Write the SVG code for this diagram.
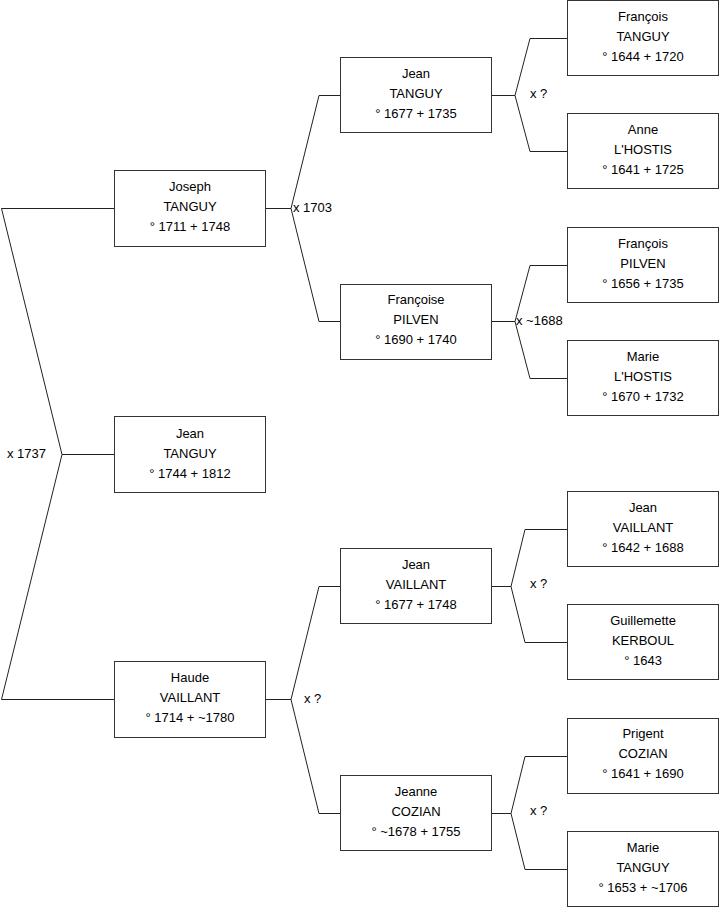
<svg xmlns="http://www.w3.org/2000/svg" width="719" height="908" viewBox="0 0 719 908">
<style>
rect.b{fill:#fff;stroke:#333;stroke-width:1}
text{font-family:"Liberation Sans",Arial,sans-serif;font-size:13px;fill:#000}
text.c{text-anchor:middle}
#connectors path{fill:none;stroke:#222;stroke-width:1}
</style>
<rect width="719" height="908" fill="#fff"/>
<g id="connectors">
<path d="M114 208.5H1.5L62 454.5L1.5 699.5H114M62 454.5H114"/>
<path d="M265 208.5H291L319 95.5H340M291 208.5L319 321.5H340"/>
<path d="M265 699.5H291L319 586.5H340M291 699.5L319 813.5H340"/>
<path d="M491 95.5H515L530 38.5H567M515 95.5L530 151.5H567"/>
<path d="M491 321.5H515L530 265.5H567M515 321.5L530 378.5H567"/>
<path d="M491 586.5H511L525 529.5H567M511 586.5L525 642.5H567"/>
<path d="M491 813.5H511L525 756.5H567M511 813.5L525 869.5H567"/>
<text x="7" y="458">x 1737</text>
<text x="293" y="212">x 1703</text>
<text x="530" y="98">x ?</text>
<text x="516" y="325">x ~1688</text>
<text x="304" y="703">x ?</text>
<text x="530" y="588">x ?</text>
<text x="530" y="815">x ?</text>
</g>
<g id="n-jean-tanguy-1744">
<rect class="b" x="114.5" y="416.5" width="151" height="76"/>
<text class="c" x="190" y="437.5">Jean</text><text class="c" x="190" y="457.5">TANGUY</text><text class="c" x="190" y="477.5">° 1744 + 1812</text>
</g>
<g id="n-joseph-tanguy">
<rect class="b" x="114.5" y="170.5" width="151" height="76"/>
<text class="c" x="190" y="190.5">Joseph</text><text class="c" x="190" y="210.5">TANGUY</text><text class="c" x="190" y="230.5">° 1711 + 1748</text>
</g>
<g id="n-haude-vaillant">
<rect class="b" x="114.5" y="661.5" width="151" height="76"/>
<text class="c" x="190" y="681.5">Haude</text><text class="c" x="190" y="701.5">VAILLANT</text><text class="c" x="190" y="721.5">° 1714 + ~1780</text>
</g>
<g id="n-jean-tanguy-1677">
<rect class="b" x="340.5" y="57.5" width="151" height="75"/>
<text class="c" x="416" y="77.5">Jean</text><text class="c" x="416" y="97.5">TANGUY</text><text class="c" x="416" y="117.5">° 1677 + 1735</text>
</g>
<g id="n-francoise-pilven">
<rect class="b" x="340.5" y="284.5" width="151" height="75"/>
<text class="c" x="416" y="303.5">Françoise</text><text class="c" x="416" y="323.5">PILVEN</text><text class="c" x="416" y="343.5">° 1690 + 1740</text>
</g>
<g id="n-jean-vaillant-1677">
<rect class="b" x="340.5" y="548.5" width="151" height="75"/>
<text class="c" x="416" y="568.5">Jean</text><text class="c" x="416" y="588.5">VAILLANT</text><text class="c" x="416" y="608.5">° 1677 + 1748</text>
</g>
<g id="n-jeanne-cozian">
<rect class="b" x="340.5" y="775.5" width="151" height="75"/>
<text class="c" x="416" y="795.5">Jeanne</text><text class="c" x="416" y="815.5">COZIAN</text><text class="c" x="416" y="835.5">° ~1678 + 1755</text>
</g>
<g id="n-francois-tanguy">
<rect class="b" x="567.5" y="0.5" width="151" height="75"/>
<text class="c" x="643" y="20.5">François</text><text class="c" x="643" y="40.5">TANGUY</text><text class="c" x="643" y="60.5">° 1644 + 1720</text>
</g>
<g id="n-anne-lhostis">
<rect class="b" x="567.5" y="113.5" width="151" height="75"/>
<text class="c" x="643" y="133.5">Anne</text><text class="c" x="643" y="153.5">L'HOSTIS</text><text class="c" x="643" y="173.5">° 1641 + 1725</text>
</g>
<g id="n-francois-pilven">
<rect class="b" x="567.5" y="227.5" width="151" height="75"/>
<text class="c" x="643" y="247.5">François</text><text class="c" x="643" y="267.5">PILVEN</text><text class="c" x="643" y="287.5">° 1656 + 1735</text>
</g>
<g id="n-marie-lhostis">
<rect class="b" x="567.5" y="340.5" width="151" height="75"/>
<text class="c" x="643" y="360.5">Marie</text><text class="c" x="643" y="380.5">L'HOSTIS</text><text class="c" x="643" y="400.5">° 1670 + 1732</text>
</g>
<g id="n-jean-vaillant-1642">
<rect class="b" x="567.5" y="491.5" width="151" height="75"/>
<text class="c" x="643" y="511.5">Jean</text><text class="c" x="643" y="531.5">VAILLANT</text><text class="c" x="643" y="551.5">° 1642 + 1688</text>
</g>
<g id="n-guillemette-kerboul">
<rect class="b" x="567.5" y="604.5" width="151" height="75"/>
<text class="c" x="643" y="624.5">Guillemette</text><text class="c" x="643" y="644.5">KERBOUL</text><text class="c" x="643" y="664.5">° 1643</text>
</g>
<g id="n-prigent-cozian">
<rect class="b" x="567.5" y="718.5" width="151" height="75"/>
<text class="c" x="643" y="737.5">Prigent</text><text class="c" x="643" y="757.5">COZIAN</text><text class="c" x="643" y="777.5">° 1641 + 1690</text>
</g>
<g id="n-marie-tanguy">
<rect class="b" x="567.5" y="831.5" width="151" height="75"/>
<text class="c" x="643" y="851.5">Marie</text><text class="c" x="643" y="871.5">TANGUY</text><text class="c" x="643" y="891.5">° 1653 + ~1706</text>
</g>
</svg>
